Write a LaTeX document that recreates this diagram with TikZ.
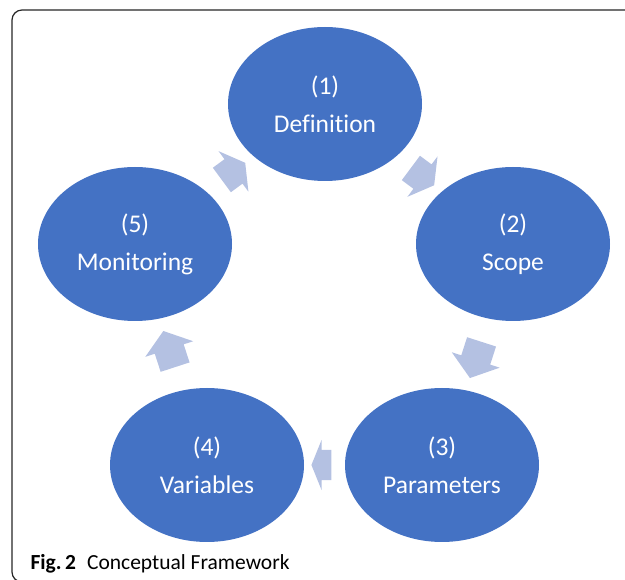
\documentclass[tikz,border=0pt]{standalone}
\usepackage{fontspec}
\setmainfont{Carlito}[Ligatures=NoCommon]
\usepackage{tikz}
\usetikzlibrary{positioning,shapes,arrows}

\definecolor{stepblue}{RGB}{68,114,196}
\definecolor{arrowblue}{RGB}{180,193,226}

\begin{document}
\begin{tikzpicture}[x=1pt, y=-1pt,
  phase/.style={ellipse, fill=stepblue, text=white, minimum width=194pt,
             minimum height=154pt, inner sep=0pt, align=center,
             font=\fontsize{25.5}{38}\selectfont},
  cycarrow/.style={single arrow, fill=arrowblue, inner xsep=0pt, inner ysep=15pt,
             single arrow head extend=10pt, sloped, allow upside down, midway}]
  \useasboundingbox (0,0) rectangle (625,580);
  % frame
  \draw[line width=1.2pt, rounded corners=10pt, black!85] (12,10) rectangle (660,582);
  % phases
  \node[phase] (def) at (325,104) {(1)\\Definition};
  \node[phase] (scope) at (513,244) {(2)\\Scope};
  \node[phase] (param) at (442,465) {(3)\\Parameters};
  \node[phase] (var) at (207,465) {(4)\\Variables};
  \node[phase] (mon) at (135,244) {(5)\\Monitoring};
  % arrows
  \path (def) -- node[cycarrow, minimum height=29pt, single arrow tip angle=120] (a12) {} (scope);
  \path (scope) -- node[cycarrow, minimum height=38pt, single arrow tip angle=106] (a23) {} (param);
  \path (param) -- node[cycarrow, minimum height=20pt, single arrow tip angle=136] (a34) {} (var);
  \path (var) -- node[cycarrow, minimum height=38pt, single arrow tip angle=106] (a45) {} (mon);
  \path (mon) -- node[cycarrow, minimum height=29pt, single arrow tip angle=120] (a51) {} (def);
  % caption
  \node[anchor=base west, font=\fontsize{21.5}{25}\selectfont] (cap) at (27,570)
    {\textbf{Fig.\,2}\hspace{11pt}Conceptual Framework};
\end{tikzpicture}
\end{document}
